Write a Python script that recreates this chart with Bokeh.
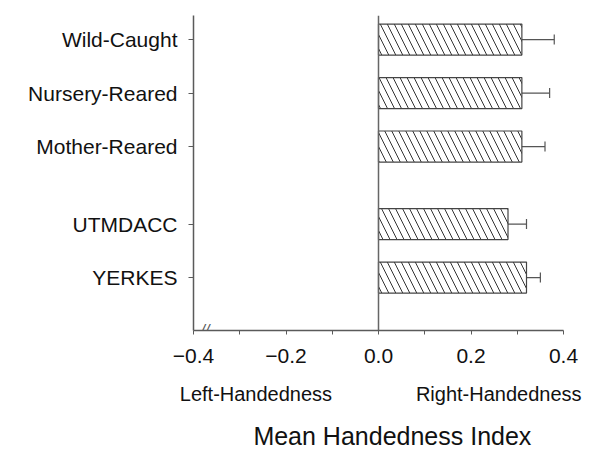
from bokeh.plotting import figure
from bokeh.models import (ColumnDataSource, FixedTicker, LinearAxis, Range1d,
                          Span, Whisker, TeeHead, Label)
from bokeh.embed import file_html
from bokeh.resources import INLINE

# ---- data ----
categories = ["Wild-Caught", "Nursery-Reared", "Mother-Reared", "UTMDACC", "YERKES"]
groups = ["Rearing", "Rearing", "Rearing", "Colony", "Colony"]
means = [0.31, 0.31, 0.31, 0.28, 0.32]
errors = [0.07, 0.06, 0.05, 0.04, 0.03]
x_ticks = [-0.4, -0.2, 0.0, 0.2, 0.4]
x_tick_labels = ["\u22120.4", "\u22120.2", "0.0", "0.2", "0.4"]
side_labels = ["Left-Handedness", "Right-Handedness"]
x_title = "Mean Handedness Index"

# ---- layout helpers (positions computed, not data) ----
GAP = 0.45
n = len(categories)
ypos = []
for i, g in enumerate(groups):
    rank = n - 1 - i
    ypos.append(rank + (GAP if g == groups[0] else 0.0))

src = ColumnDataSource(dict(
    y=ypos, mean=means,
    lower=[m - e for m, e in zip(means, errors)],
    upper=[m + e for m, e in zip(means, errors)],
))

FONT = "Liberation Sans"
AX = "#5a5a5a"
TXT = "#111111"

p = figure(width=592, height=456, output_backend="svg", toolbar_location=None,
           x_range=Range1d(-0.4, 0.4), y_range=Range1d(-0.99, max(ypos) + 0.45),
           min_border_left=193, min_border_right=29, min_border_top=15,
           min_border_bottom=126, x_axis_type=None)
p.outline_line_color = None
p.grid.visible = False
p.background_fill_color = "white"

# bars
p.hbar(y="y", left=0, right="mean", height=0.58, source=src,
       fill_color="white", line_color="#444444", line_width=1.2,
       hatch_pattern="\\", hatch_scale=14, hatch_weight=1.0,
       hatch_color="#333333")

# error bars
w = Whisker(source=src, base="y", lower="lower", upper="upper",
            dimension="width", line_color="#555555", line_width=1.2,
            upper_head=TeeHead(size=10, line_color="#555555", line_width=1.2),
            lower_head=TeeHead(size=10, line_color="#555555", line_width=1.2))
p.add_layout(w)

# zero line
p.add_layout(Span(location=0, dimension="height", line_color="#666666",
                  line_width=1.5))

# y axis
ya = p.yaxis[0]
ya.ticker = FixedTicker(ticks=ypos)
ya.major_label_overrides = {y: c for y, c in zip(ypos, categories)}
ya.major_label_text_font = FONT
ya.major_label_text_font_size = "21px"
ya.major_label_text_color = TXT
ya.axis_line_color = AX
ya.axis_line_width = 1.5
ya.major_tick_line_color = AX
ya.major_tick_out = 5
ya.major_tick_in = 0
ya.minor_tick_line_color = None
ya.major_label_standoff = 11

# x axis with ticks
xa = LinearAxis(ticker=FixedTicker(ticks=x_ticks, minor_ticks=[-0.3, -0.1, 0.1, 0.3]))
xa.major_label_overrides = {t: l for t, l in zip(x_ticks, x_tick_labels)}
xa.major_label_text_font = FONT
xa.major_label_text_font_size = "21px"
xa.major_label_text_color = TXT
xa.axis_line_color = AX
xa.axis_line_width = 1.5
xa.major_tick_line_color = AX
xa.minor_tick_line_color = AX
xa.major_tick_out = 4
xa.major_tick_in = 0
xa.minor_tick_out = 4
xa.minor_tick_in = 0
xa.major_label_standoff = 14
p.add_layout(xa, "below")

def text_axis(pos, labels, size, standoff):
    ax = LinearAxis(ticker=FixedTicker(ticks=pos, minor_ticks=[]))
    ax.major_label_overrides = {t: l for t, l in zip(pos, labels)}
    ax.major_label_text_font = FONT
    ax.major_label_text_font_size = size
    ax.major_label_text_color = TXT
    ax.axis_line_color = None
    ax.major_tick_line_color = None
    ax.minor_tick_line_color = None
    ax.major_label_standoff = standoff
    return ax

# side labels
p.add_layout(text_axis([-0.265, 0.26], side_labels, "20px", 11), "below")
# title
p.add_layout(text_axis([0.03], [x_title], "25px", 8), "below")

# axis break mark
p.add_layout(Label(x=-0.375, y=-0.99, text="//", text_font=FONT,
                   text_font_size="16px", text_color=AX,
                   text_align="center", text_baseline="middle",
                   text_font_style="italic"))

open("out.html", "w").write(file_html(p, INLINE))
